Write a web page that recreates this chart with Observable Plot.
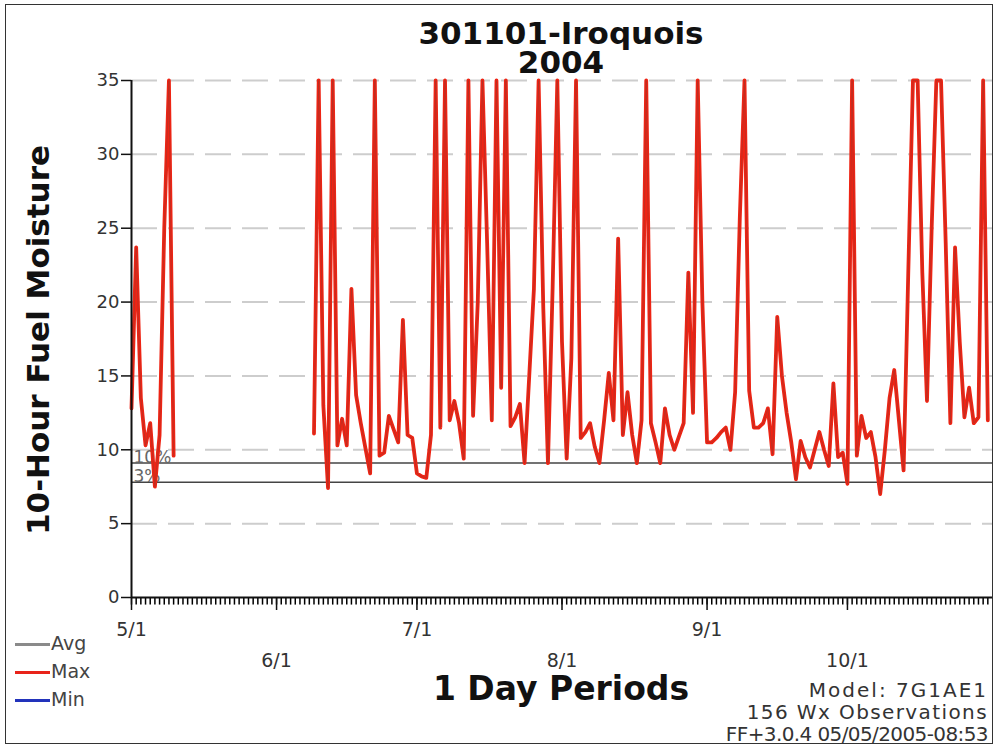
<!DOCTYPE html>
<html><head><meta charset="utf-8">
<script src="https://cdn.jsdelivr.net/npm/d3@7"></script>
<script src="https://cdn.jsdelivr.net/npm/@observablehq/plot@0.6"></script>
<style>
html,body{margin:0;padding:0;background:#fff;}
#wrap{position:relative;width:995px;height:745px;overflow:hidden;font-family:"DejaVu Sans",sans-serif;color:#222;background:#fff;}
#chart{position:absolute;left:0;top:0;}
#frame{position:absolute;left:5px;top:4px;width:986px;height:738px;border:1.5px solid #333;pointer-events:none;}
.t{position:absolute;white-space:nowrap;line-height:1;}
.b{font-weight:bold;color:#111;}
</style></head><body>
<div id="wrap">
  <div id="chart"></div>
  <div class="t b" style="left:561px;top:19px;font-size:31px;line-height:29px;text-align:center;transform:translateX(-50%);">301101-Iroquois<br>2004</div>
  <div class="t b" style="left:38px;top:340px;font-size:31px;transform:translate(-50%,-50%) rotate(-90deg);">10-Hour Fuel Moisture</div>
  <div class="t b" style="left:561px;top:672px;font-size:33px;transform:translateX(-50%);">1 Day Periods</div>
  <div class="t" style="right:7px;top:680px;font-size:20px;letter-spacing:2px;color:#333;">Model: 7G1AE1</div>
  <div class="t" style="right:7px;top:702px;font-size:20px;letter-spacing:1.4px;color:#333;">156 Wx Observations</div>
  <div class="t" style="right:7px;top:724px;font-size:20px;letter-spacing:-0.6px;color:#333;">FF+3.0.4 05/05/2005-08:53</div>
  <div id="legend"></div>
  <div id="frame"></div>
</div>
<script>
// ---- data ----
const startDate = "2004-05-01";
const endDate = "2004-11-01";
// daily 10-hour fuel moisture (Max series), one value per day from 5/1; null = no observation
const maxValues = [
  12.8, 23.7, 13.5, 10.3, 11.8, 7.5, 11, 25, 35, 9.6,
  null, null, null, null, null, null, null, null, null, null,
  null, null, null, null, null, null, null, null, null, null,
  null, null, null, null, null, null, null, null, null,
  11.1, 35, 13, 7.4, 35, 10.3, 12.1, 10.3, 20.9, 13.7,
  11.8, 10.1, 8.4, 35, 9.6, 9.8, 12.3, 11.4, 10.5, 18.8,
  11, 10.8, 8.4, 8.2, 8.1, 11, 35, 11.5, 35, 12,
  13.3, 11.8, 9.4, 35, 12.3, 20, 35, 24, 12, 35,
  14.2, 35, 11.6, 12.2, 13.1, 9.1, 15, 20.9, 35, 19.6,
  9.1, 21, 35, 17.3, 9.4, 16.2, 35, 10.8, 11.2, 11.8,
  10.2, 9.1, 12, 15.2, 12, 24.3, 11, 13.9, 11, 9.1,
  12, 35, 11.8, 10.5, 9.1, 12.8, 11, 10, 10.9, 11.8,
  22, 12.5, 35, 20, 10.5, 10.5, 10.8, 11.2, 11.5, 10,
  13.9, 25.7, 35, 14, 11.5, 11.5, 11.8, 12.8, 9.7, 19,
  15, 12.5, 10.5, 8, 10.6, 9.5, 8.8, 10, 11.2, 10,
  8.9, 14.5, 9.5, 9.8, 7.7, 35, 9.6, 12.3, 10.8, 11.2,
  9.5, 7, 10, 13.5, 15.4, 12, 8.6, 22, 35, 35,
  22, 13.3, 25, 35, 35, 24, 11.8, 23.7, 17.3, 12.2,
  14.2, 11.8, 12.2, 35, 12
];
const yTicks = [0, 5, 10, 15, 20, 25, 30, 35];
const gridValues = [5, 10, 15, 20, 25, 30, 35];
const monthTicks = ["2004-05-01", "2004-06-01", "2004-07-01", "2004-08-01", "2004-09-01", "2004-10-01"];
const monthLabels = ["5/1", "6/1", "7/1", "8/1", "9/1", "10/1"];
const thresholdValues = [9.1, 7.8];
const thresholdLabels = ["10%", "3%"];
const legendNames = ["Avg", "Max", "Min"];
const legendColors = ["#8a8a8a", "#e8231a", "#2233bb"];

// ---- build ----
const start = new Date(startDate);
const end = new Date(endDate);
const data = maxValues.map((v, i) => ({date: d3.utcDay.offset(start, i), v}));
const monthDates = monthTicks.map(s => new Date(s));
const labelFor = d => monthLabels[monthDates.findIndex(m => +m === +d)];
const row1 = monthDates.filter((d, i) => i % 2 === 0);
const row2 = monthDates.filter((d, i) => i % 2 === 1);
const dayTicks = data.map(d => ({date: d.date}));
const thresholds = thresholdValues.map((v, i) => ({v, label: thresholdLabels[i]}));

const chart = Plot.plot({
  width: 995,
  height: 745,
  marginTop: 80,
  marginBottom: 148,
  marginLeft: 131,
  marginRight: 3,
  x: {type: "utc", domain: [start, end], label: null},
  y: {domain: [0, 35], label: null},
  style: {fontFamily: "DejaVu Sans", color: "#222", background: "transparent", overflow: "visible"},
  marks: [
    Plot.ruleY(gridValues, {stroke: "#cdcdcd", strokeWidth: 2, strokeDasharray: "26,11"}),
    Plot.ruleY(thresholdValues, {stroke: "#444", strokeWidth: 1.5}),
    Plot.text(thresholds, {y: "v", text: "label", frameAnchor: "left", dx: 2, textAnchor: "start", lineAnchor: "bottom", fontSize: 17, fill: "#666"}),
    Plot.line(data, {x: "date", y: "v", stroke: "#ee2414", strokeWidth: 3.8}),
    Plot.line(data, {x: "date", y: "v", stroke: "#a8342a", strokeWidth: 1, strokeOpacity: 0.6}),
    Plot.axisY({ticks: yTicks, tickSize: 10, tickPadding: 2, fontSize: 18, label: null, stroke: "#111", strokeWidth: 1.5, fill: "#333"}),
    Plot.link(dayTicks, {x1: "date", x2: "date", y1: 0, y2: -0.48, stroke: "#000", strokeWidth: 1.5}),
    Plot.axisX({ticks: monthDates, tickSize: 13, tickFormat: () => "", label: null, stroke: "#111", strokeWidth: 1.5}),
    Plot.axisX({ticks: row1, tickSize: 0, tickPadding: 25, tickFormat: labelFor, fontSize: 19, label: null, fill: "#333"}),
    Plot.axisX({ticks: row2, tickSize: 0, tickPadding: 56, tickFormat: labelFor, fontSize: 19, label: null, fill: "#333"}),
    Plot.ruleY([0], {stroke: "#111", strokeWidth: 2}),
    Plot.ruleX([start], {stroke: "#111", strokeWidth: 2})
  ]
});
document.getElementById("chart").appendChild(chart);

// legend
const legend = document.getElementById("legend");
const legendY = [644, 672, 700];
legendNames.forEach((name, i) => {
  const line = document.createElement("div");
  line.style.cssText = `position:absolute;left:15px;top:${legendY[i] - 1.5}px;width:35px;height:3px;background:${legendColors[i]};`;
  legend.appendChild(line);
  const txt = document.createElement("div");
  txt.className = "t";
  txt.textContent = name;
  txt.style.cssText += `left:51px;top:${legendY[i] - 10}px;font-size:19px;color:#444;`;
  legend.appendChild(txt);
});
</script>
</body></html>
